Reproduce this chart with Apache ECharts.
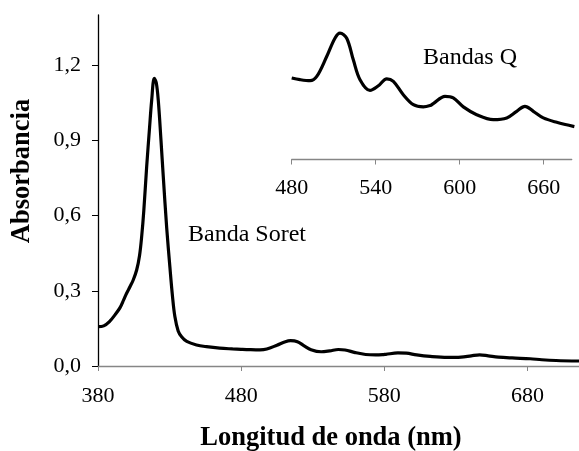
<!DOCTYPE html>
<html>
<head>
<meta charset="utf-8">
<script src="https://cdn.jsdelivr.net/npm/echarts@6/dist/echarts.min.js"></script>
<style>html,body{margin:0;padding:0;background:#fff}#c{width:579px;height:451px}</style>
</head>
<body>
<div id="c"></div>
<script>
// Wavelength (nm) and absorbance
const wavelength = [380, 384, 388, 392, 395.4, 398, 400, 402.5, 404.6, 407, 409, 410.5, 412, 414, 416, 417.5, 419.3, 420.7, 422.1, 424, 425.6, 428, 430.2, 432, 433.7, 436, 438.4, 442, 448.8, 455.8, 465, 474,
  480, 485.9, 493.1, 497.9, 505, 510.9, 514.5, 519.3, 524, 528.8, 535.9, 541.9, 547.9, 552.6, 559.7, 566.9, 574, 578.8, 581.1, 589.5, 595.4, 602.6, 612.1, 624, 633.6, 640.7, 646.6, 652.6, 659.7, 669.3, 681.9,
  690, 700, 716];
const absorbance = [0.157, 0.160, 0.177, 0.205, 0.233, 0.265, 0.290, 0.318, 0.343, 0.383, 0.44, 0.516, 0.62, 0.795, 0.95, 1.06, 1.147, 1.13, 1.06, 0.90, 0.755, 0.55, 0.396, 0.28, 0.197, 0.14, 0.117, 0.098, 0.084, 0.077, 0.071, 0.068,
  0.0664, 0.0651, 0.0643, 0.0676, 0.0830, 0.0971, 0.1010, 0.0971, 0.0804, 0.0651, 0.0568, 0.0604, 0.0658, 0.0638, 0.0535, 0.0458, 0.0441, 0.0451, 0.0466, 0.0522, 0.0510, 0.0441, 0.0381, 0.0343, 0.0356, 0.0407, 0.0445, 0.0407, 0.0356, 0.0322, 0.0289,
  0.025, 0.022, 0.020];
const yTicks = [0, 0.3, 0.6, 0.9, 1.2];
const xTicks = [380, 480, 580, 680];
const insetTicks = [480, 540, 600, 660];
const labels = { xTitle: 'Longitud de onda (nm)', yTitle: 'Absorbancia', soret: 'Banda Soret', q: 'Bandas Q' };

const data = wavelength.map((w, i) => [w, absorbance[i]]);
const insetData = data.filter(d => d[0] >= 478 && d[0] <= 684);
const serif = '"Liberation Serif", "Times New Roman", serif';

const chart = echarts.init(document.getElementById('c'), null, { renderer: 'canvas' });
chart.setOption({
  animation: false,
  backgroundColor: '#fff',
  grid: [
    { left: 98, top: 15, width: 481, height: 351 },
    { left: 291.7, top: 0, width: 280, height: 159.5 }
  ],
  xAxis: [
    {
      gridIndex: 0, type: 'value', min: 380, max: 716, interval: 100,
      axisLine: { onZero: false, lineStyle: { color: '#868686', width: 1.3 } },
      axisTick: { customValues: xTicks, length: 5, lineStyle: { color: '#868686' } },
      axisLabel: { customValues: xTicks, color: '#000', fontFamily: serif, fontSize: 22, margin: 19 },
      splitLine: { show: false }
    },
    {
      gridIndex: 1, type: 'value', min: 480, max: 680, interval: 60,
      axisLine: { onZero: false, lineStyle: { color: '#868686', width: 1.3 } },
      axisTick: { customValues: insetTicks, length: 5, lineStyle: { color: '#868686' } },
      axisLabel: { customValues: insetTicks, color: '#000', fontFamily: serif, fontSize: 22, margin: 18 },
      splitLine: { show: false }
    }
  ],
  yAxis: [
    {
      gridIndex: 0, type: 'value', min: 0, max: 1.4, interval: 0.1,
      axisLine: { show: true, lineStyle: { color: '#000', width: 1.3 } },
      axisTick: { show: true, customValues: yTicks, length: 6, lineStyle: { color: '#000' } },
      axisLabel: { customValues: yTicks, color: '#000', fontFamily: serif, fontSize: 22, margin: 17,
        formatter: v => v.toFixed(1).replace('.', ',') },
      splitLine: { show: false }
    },
    {
      gridIndex: 1, type: 'value', min: 0.0035, max: 0.1266,
      show: false, splitLine: { show: false }
    }
  ],
  series: [
    {
      type: 'line', xAxisIndex: 0, yAxisIndex: 0, data: data, smooth: 0.35, symbol: 'none',
      lineStyle: { color: '#000', width: 3.2 }
    },
    {
      type: 'line', xAxisIndex: 1, yAxisIndex: 1, data: insetData, smooth: 0.35, symbol: 'none',
      lineStyle: { color: '#000', width: 3.2 }
    }
  ],
  graphic: [
    { type: 'text', left: 188, top: 223, style: { text: labels.soret, font: '24px ' + serif, fill: '#000' } },
    { type: 'text', left: 423, top: 46, style: { text: labels.q, font: '24px ' + serif, fill: '#000' } },
    { type: 'text', x: 331, y: 438, style: { text: labels.xTitle, font: 'bold 26.5px ' + serif, fill: '#000', align: 'center', verticalAlign: 'middle' } },
    { type: 'text', x: 22, y: 171, rotation: Math.PI / 2, style: { text: labels.yTitle, font: 'bold 26.5px ' + serif, fill: '#000', align: 'center', verticalAlign: 'middle' } }
  ]
});
</script>
</body>
</html>
